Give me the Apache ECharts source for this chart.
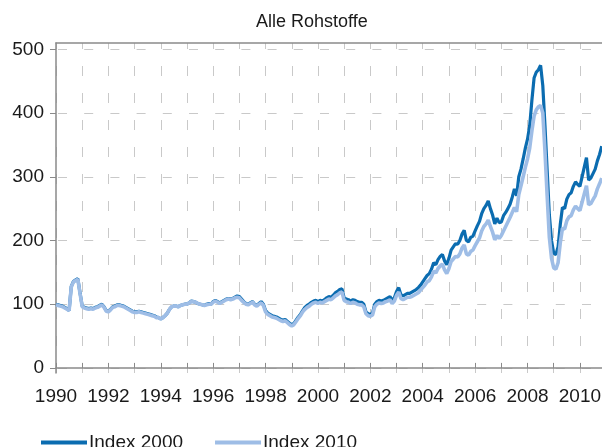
<!DOCTYPE html>
<html>
<head>
  <meta charset="utf-8">
  <title>Alle Rohstoffe</title>
  <style>
    body { margin: 0; background: #ffffff; }
    #chart { width: 602px; height: 447px; }
  </style>
</head>
<body>
  <div id="chart"></div>
  <script src="https://cdn.jsdelivr.net/npm/echarts@6/dist/echarts.min.js"></script>
  <script>
    // monthly values, Jan 1990 .. Nov 2010
    var startYear = 1990;
    var seriesNames = ['Index 2000', 'Index 2010'];
    var yTicks = [0, 100, 200, 300, 400, 500];

    var index2000 = [
      100, 99, 98, 97, 95, 93, 90, 128, 136, 138, 140, 118,
      97, 95, 94, 93, 94, 93, 95, 96, 98, 100, 96, 90,
      89, 92, 96, 97, 99, 99, 98, 97, 95, 93, 91, 89,
      88, 88, 89, 88, 87, 86, 85, 84, 83, 82, 80, 79,
      77, 79, 82, 86, 92, 96, 97, 97, 96, 98, 99, 100,
      100, 102, 105, 104, 103, 101, 100, 99, 98, 100, 101, 100,
      104, 106, 104, 102, 104, 106, 108, 109, 108, 109, 111, 113,
      112, 108, 104, 101, 100, 102, 104, 100, 98, 101, 104, 100,
      90, 86, 84, 82, 81, 80, 78, 76, 75, 76, 73, 70,
      68, 70, 75, 80, 84, 90, 95, 98, 100, 103, 105, 106,
      104, 106, 105, 107, 110, 112, 111, 114, 118, 120, 123, 124,
      110, 108, 107, 105, 107, 106, 104, 103, 103, 100, 88, 85,
      84, 86, 100, 104, 106, 105, 106, 108, 110, 112, 106, 110,
      120, 126, 115, 113, 115, 117, 117, 119, 121, 123, 126, 130,
      135, 140, 145, 148, 155, 165, 162, 170, 175, 178, 168, 162,
      172, 185, 190, 195, 194, 200, 210, 216, 200, 198, 205, 207,
      215, 223, 230, 242, 250, 255, 262, 250, 240, 226, 235, 228,
      229, 239, 244, 250, 257, 268, 281, 270, 300, 312, 328, 345,
      359, 380, 420, 455, 464, 468, 475, 443, 380, 310, 240, 200,
      180, 178, 190, 225, 252, 250, 265, 272, 275, 285, 292, 288,
      285, 300, 315, 330, 295, 298, 305, 312, 325, 335, 348
    ];

    var index2010 = [
      99, 98, 97, 96, 94, 92, 90, 127, 135, 137, 139, 117,
      96, 94, 93, 92, 93, 92, 94, 95, 97, 99, 95, 89,
      88, 91, 95, 96, 98, 98, 97, 96, 94, 92, 90, 88,
      87, 87, 88, 87, 86, 85, 84, 83, 82, 81, 79, 79,
      77, 79, 82, 86, 92, 96, 97, 97, 96, 98, 99, 100,
      100, 102, 104, 104, 103, 101, 100, 99, 98, 99, 100, 100,
      103, 105, 103, 101, 103, 105, 107, 108, 107, 108, 110, 111,
      110, 106, 103, 100, 99, 101, 103, 99, 97, 100, 102, 98,
      88, 84, 82, 80, 79, 78, 76, 74, 73, 74, 71, 68,
      66, 68, 73, 78, 82, 88, 92, 95, 97, 100, 102, 103,
      101, 103, 102, 104, 106, 108, 107, 110, 113, 115, 118, 119,
      106, 104, 103, 101, 103, 102, 100, 99, 99, 96, 85, 82,
      81, 83, 96, 100, 102, 101, 102, 104, 105, 107, 101, 105,
      114, 119, 109, 107, 109, 111, 111, 112, 114, 116, 118, 122,
      126, 130, 135, 137, 143, 152, 149, 156, 160, 163, 154, 148,
      156, 167, 171, 175, 174, 179, 188, 193, 179, 177, 183, 185,
      192, 198, 204, 215, 222, 226, 232, 222, 213, 201, 208, 203,
      208, 215, 222, 229, 236, 244, 252, 245, 272, 286, 300, 315,
      328, 345, 372, 395, 405, 410, 412, 400, 340, 270, 205, 172,
      157, 155, 165, 196, 219, 218, 231, 237, 239, 248, 254, 250,
      247, 260, 273, 286, 256, 258, 264, 270, 281, 289, 298
    ];

    function toPoints(values) {
      return values.map(function (v, i) {
        return [startYear + i / 12, v];
      });
    }

    var fontFamily = '"Liberation Sans", Arial, sans-serif';
    var axisGray = '#8a8a8a';
    var gridGray = '#c9c9c9';
    var xMax = startYear + 250 / 12 + 0.01;

    var chart = echarts.init(document.getElementById('chart'));
    chart.setOption({
      animation: false,
      backgroundColor: '#ffffff',
      textStyle: { fontFamily: fontFamily },
      title: {
        text: 'Alle Rohstoffe',
        left: 251,
        top: 8,
        textStyle: { fontSize: 18, fontWeight: 'normal', color: '#1a1a1a', fontFamily: fontFamily }
      },
      legend: {
        data: seriesNames,
        left: 36,
        top: 428,
        icon: 'rect',
        itemWidth: 46,
        itemHeight: 4,
        itemGap: 32,
        textStyle: { fontSize: 19, color: '#1a1a1a', fontFamily: fontFamily, padding: [0, 0, 0, -3] }
      },
      grid: {
        left: 56,
        right: 0,
        top: 43,
        height: 330,
        outerBoundsMode: 'none'
      },
      xAxis: [{
        type: 'value',
        min: startYear,
        max: xMax,
        interval: 1,
        axisLine: { show: true, lineStyle: { color: axisGray, width: 1.5 } },
        axisTick: { show: true, inside: true, length: 5, lineStyle: { color: axisGray } },
        axisLabel: {
          fontSize: 19,
          color: '#1a1a1a',
          margin: 14,
          showMaxLabel: false,
          formatter: function (v) { return v % 2 === 0 ? String(v) : ''; }
        },
        splitLine: { show: true, lineStyle: { color: gridGray, type: [10, 17], dashOffset: 4 } }
      }, {
        type: 'value',
        position: 'top',
        min: startYear,
        max: xMax,
        axisLine: { show: true, lineStyle: { color: axisGray, width: 1.5 } },
        axisTick: { show: false },
        axisLabel: { show: false },
        splitLine: { show: false }
      }],
      yAxis: {
        type: 'value',
        min: -8,
        max: 510,
        axisLine: { show: true, lineStyle: { color: axisGray, width: 1.5 } },
        axisTick: { show: true, length: 6, customValues: yTicks, lineStyle: { color: axisGray } },
        axisLabel: { fontSize: 19, color: '#1a1a1a', margin: 12, customValues: yTicks },
        splitLine: { show: true, lineStyle: { color: gridGray, type: [9, 17.2], dashOffset: -2 } }
      },
      series: [{
        name: seriesNames[0],
        type: 'line',
        data: toPoints(index2000),
        showSymbol: false,
        symbol: 'none',
        lineStyle: { color: '#0b6cb0', width: 3.2 },
        itemStyle: { color: '#0b6cb0' },
        z: 2
      }, {
        name: seriesNames[1],
        type: 'line',
        data: toPoints(index2010),
        showSymbol: false,
        symbol: 'none',
        lineStyle: { color: '#9ebde6', width: 3.6 },
        itemStyle: { color: '#9ebde6' },
        z: 3
      }]
    });
  </script>
</body>
</html>
